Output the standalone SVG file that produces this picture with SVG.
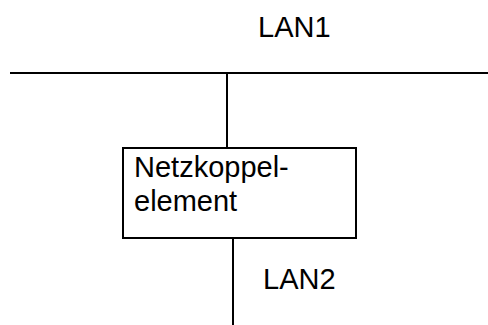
<svg xmlns="http://www.w3.org/2000/svg" width="488" height="325" viewBox="0 0 488 325">
<style>
.ln{stroke:#000;stroke-width:2;fill:none}
.t{font-family:"Liberation Sans",Arial,sans-serif;font-size:29px;fill:#000}
</style>
<rect width="488" height="325" fill="#fff"/>
<g id="connectors">
<line class="ln" x1="10" y1="73" x2="488" y2="73"/>
<line class="ln" x1="227" y1="73" x2="227" y2="148"/>
<line class="ln" x1="233" y1="238" x2="233" y2="325"/>
</g>
<g id="lan1"><text class="t" x="258" y="37">LAN1</text></g>
<g id="netzkoppelelement">
<rect class="ln" x="123" y="148" width="233" height="90"/>
<text class="t" x="134" y="177">Netzkoppel-</text>
<text class="t" x="134" y="211">element</text>
</g>
<g id="lan2"><text class="t" x="263" y="289">LAN2</text></g>
</svg>
